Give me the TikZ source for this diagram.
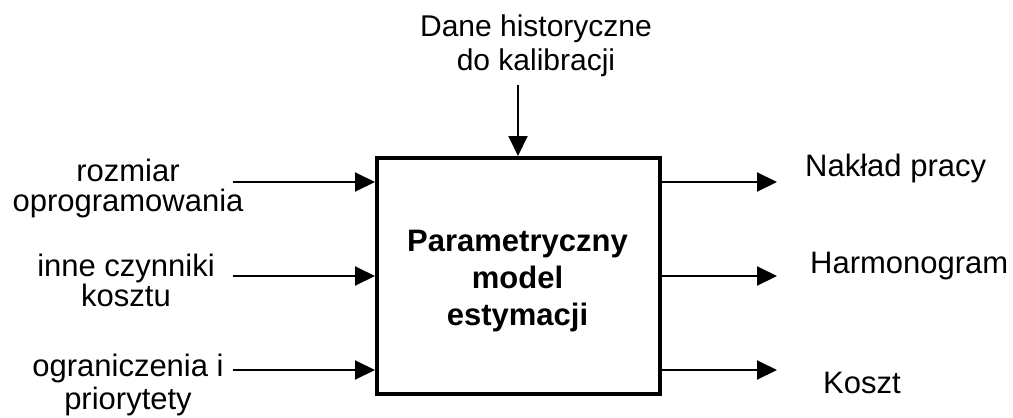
\documentclass[tikz,border=0pt]{standalone}
\usepackage{fontspec}
\setmainfont{Liberation Sans}
\usetikzlibrary{arrows.meta}
\begin{document}
\begin{tikzpicture}[x=1pt,y=-1pt,
  arr/.style={line width=2pt,-{Triangle[length=20pt,width=19pt]}},
  lbl/.style={inner sep=0pt,align=center,anchor=base},
  outlbl/.style={inner sep=0pt,anchor=base west,font=\fontsize{31}{31}\selectfont},
  modelbox/.style={draw,line width=4pt,minimum width=283pt,minimum height=236pt,inner sep=0pt}]
\useasboundingbox (0,0) rectangle (1013,418);

% central model block (labels are placed by the baseline of their last line)
\node[modelbox] (box) at (518.5,276) {};
\node[lbl,font=\bfseries\fontsize{31}{37}\selectfont] (title) at (517.5,325)
  {Parametryczny\\model\\estymacji};

% input labels
\node[lbl,font=\fontsize{31}{30}\selectfont] (l1) at (128,211.7) {rozmiar\\oprogramowania};
\node[lbl,font=\fontsize{31}{30}\selectfont] (l2) at (126,306.7) {inne czynniki\\kosztu};
\node[lbl,font=\fontsize{31}{33}\selectfont] (l3) at (128,409) {ograniczenia i\\priorytety};
\node[lbl,font=\fontsize{30}{34}\selectfont] (hist) at (536,70) {Dane historyczne\\do kalibracji};

% output labels
\node[outlbl] (o1) at (805,176.7) {Nakład pracy};
\node[outlbl] (o2) at (810,273) {Harmonogram};
\node[outlbl] (o3) at (823,393) {Koszt};

% arrow end points
\coordinate (s1) at (233,182);
\coordinate (s2) at (233,276);
\coordinate (s3) at (233,370);
\coordinate (t1) at (777,182);
\coordinate (t2) at (777,276);
\coordinate (t3) at (777,370);
\coordinate (d) at (518,85);

% inputs
\draw[arr] (s1) -- (s1 -| box.west);
\draw[arr] (s2) -- (s2 -| box.west);
\draw[arr] (s3) -- (s3 -| box.west);
\draw[arr] (d) -- (d |- box.north);

% outputs
\draw[arr] (t1 -| box.east) -- (t1);
\draw[arr] (t2 -| box.east) -- (t2);
\draw[arr] (t3 -| box.east) -- (t3);
\end{tikzpicture}
\end{document}
